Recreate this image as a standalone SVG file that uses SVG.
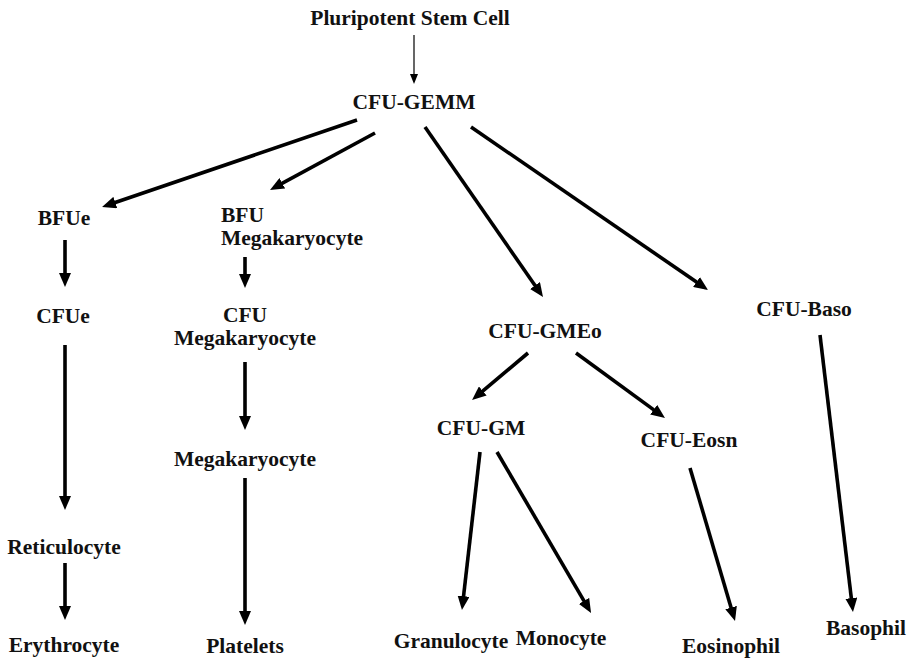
<svg xmlns="http://www.w3.org/2000/svg" width="907" height="659" viewBox="0 0 907 659">
  <defs>
    <style>
      .lbl { font-family: "Liberation Serif", "DejaVu Serif", serif; font-weight: bold; font-size: 21.5px; fill: #111; text-anchor: middle; }
      .start { text-anchor: start; }
      .arr { stroke: #000; stroke-width: 3.6; fill: none; marker-end: url(#head); }
      .thin { stroke: #000; stroke-width: 1.2; fill: none; marker-end: url(#headSmall); }
    </style>
    <marker id="head" markerUnits="userSpaceOnUse" viewBox="0 0 14 12" markerWidth="14" markerHeight="12" refX="4" refY="6" orient="auto">
      <path d="M0,0 L14,6 L0,12 z" fill="#000"/>
    </marker>
    <marker id="headSmall" markerUnits="userSpaceOnUse" viewBox="0 0 10 8" markerWidth="10" markerHeight="8" refX="2" refY="4" orient="auto">
      <path d="M0,0 L10,4 L0,8 z" fill="#000"/>
    </marker>
  </defs>
  <rect width="907" height="659" fill="#fff"/>

  <!-- lineage connectors -->
  <g id="connectors">
    <line class="thin" x1="414" y1="35" x2="414" y2="76"/>
    <line class="arr" x1="357" y1="120" x2="111.5" y2="203.8"/>
    <line class="arr" x1="375" y1="133" x2="278.8" y2="185.2"/>
    <line class="arr" x1="425" y1="127" x2="537.3" y2="288.8"/>
    <line class="arr" x1="471" y1="127" x2="699.8" y2="284.3"/>
    <line class="arr" x1="65" y1="240" x2="65" y2="277"/>
    <line class="arr" x1="65" y1="345" x2="65" y2="500"/>
    <line class="arr" x1="65" y1="563" x2="65" y2="610"/>
    <line class="arr" x1="245" y1="257" x2="245" y2="278"/>
    <line class="arr" x1="245" y1="362" x2="245" y2="420"/>
    <line class="arr" x1="245" y1="478" x2="245" y2="615"/>
    <line class="arr" x1="528" y1="353" x2="479.7" y2="393.6"/>
    <line class="arr" x1="576" y1="353" x2="656.9" y2="412.1"/>
    <line class="arr" x1="480" y1="452" x2="463.1" y2="600.1"/>
    <line class="arr" x1="497" y1="452" x2="586" y2="604.4"/>
    <line class="arr" x1="690" y1="468" x2="732.2" y2="611.4"/>
    <line class="arr" x1="820" y1="335" x2="851.8" y2="602.1"/>
  </g>

  <g id="stem"><text class="lbl" x="410" y="25">Pluripotent Stem Cell</text></g>
  <g id="gemm"><text class="lbl" x="414" y="109">CFU-GEMM</text></g>

  <g id="bfue"><text class="lbl" x="64" y="225">BFUe</text></g>
  <g id="cfue"><text class="lbl" x="63" y="323">CFUe</text></g>
  <g id="reticulocyte"><text class="lbl" x="64" y="554">Reticulocyte</text></g>
  <g id="erythrocyte"><text class="lbl" x="64" y="652">Erythrocyte</text></g>

  <g id="bfu-mk">
    <text class="lbl start" x="221" y="222">BFU</text>
    <text class="lbl start" x="221" y="245">Megakaryocyte</text>
  </g>
  <g id="cfu-mk">
    <text class="lbl" x="245" y="322">CFU</text>
    <text class="lbl" x="245" y="345">Megakaryocyte</text>
  </g>
  <g id="megakaryocyte"><text class="lbl" x="245" y="466">Megakaryocyte</text></g>
  <g id="platelets"><text class="lbl" x="245" y="653">Platelets</text></g>

  <g id="gmeo"><text class="lbl" x="545" y="338">CFU-GMEo</text></g>
  <g id="gm"><text class="lbl" x="481" y="435">CFU-GM</text></g>
  <g id="eosn"><text class="lbl" x="689" y="447">CFU-Eosn</text></g>
  <g id="baso"><text class="lbl" x="804" y="316">CFU-Baso</text></g>

  <g id="granulocyte"><text class="lbl" x="451" y="648">Granulocyte</text></g>
  <g id="monocyte"><text class="lbl" x="561" y="645">Monocyte</text></g>
  <g id="eosinophil"><text class="lbl" x="731" y="653">Eosinophil</text></g>
  <g id="basophil"><text class="lbl" x="866" y="635">Basophil</text></g>
</svg>
